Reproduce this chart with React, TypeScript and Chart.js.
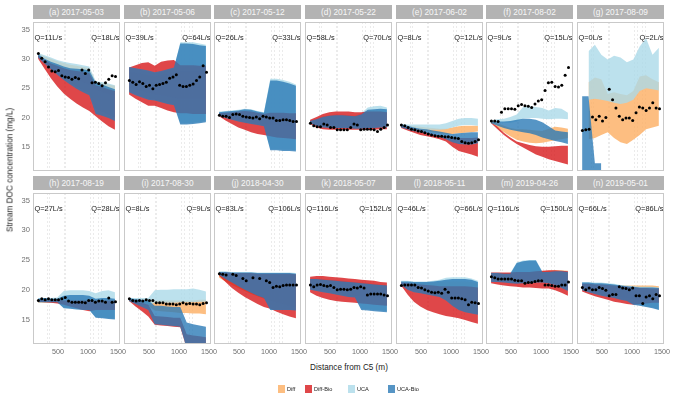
import { useEffect, useRef } from 'react';
import { Chart, registerables } from 'chart.js';

Chart.register(...registerables);
Chart.defaults.font.family = "'Liberation Sans', Arial, sans-serif";

// facet labels and discharge at the upstream / downstream end
const panelTitles = [
  '(a) 2017-05-03', '(b) 2017-05-06', '(c) 2017-05-12', '(d) 2017-05-22', '(e) 2017-06-02',
  '(f) 2017-08-02', '(g) 2017-08-09', '(h) 2017-08-19', '(i) 2017-08-30', '(j) 2018-04-30',
  '(k) 2018-05-07', '(l) 2018-05-11', '(m) 2019-04-26', '(n) 2019-05-01',
];
const qUp = [11, 39, 26, 58, 8, 9, 0, 27, 8, 83, 116, 46, 116, 66];
const qDown = [18, 64, 33, 70, 12, 15, 2, 28, 9, 106, 152, 66, 150, 86];

// distances (m)
const nodeX = [170, 277, 383, 490, 597, 703, 810, 917, 1023, 1130, 1237, 1343, 1450];
const siteX = [175, 231, 287, 343, 399, 455, 510, 566, 622, 678, 734, 790, 846, 902, 957, 1013, 1069, 1125, 1181, 1237, 1293, 1348, 1404, 1460];
const gridX = [330, 355, 605, 630, 1050, 1090, 1180, 1220];
const xTicks = [500, 1000, 1500];
const yTicks = [15, 20, 25, 30, 35];

const seriesNames = ['Diff', 'Diff-Bio', 'UCA', 'UCA-Bio'];
const seriesColors = ['rgba(253,174,97,0.8)', 'rgba(215,25,28,0.8)', 'rgba(171,217,233,0.8)', 'rgba(44,123,182,0.8)'];
// stacking: Diff at the bottom, then UCA, Diff-Bio, UCA-Bio on top
const seriesOrder = [4, 2, 3, 1];

// model ranges, one row per panel (a..n)
const diffLo = [
  [30.4, 29.6, 28.9, 28.2, 27.6, 27.0, 26.5, 26.0, 25.6, 24.8, 24.4, 24.0, 23.7],
  [25.0, 24.8, 24.5, 24.2, 24.0, 23.8, 23.6, 23.4, 23.2, 23.2, 23.2, 23.2, 23.2],
  [20.3, 20.0, 19.8, 19.6, 19.4, 19.2, 19.0, 18.9, 18.8, 18.7, 18.6, 18.5, 18.4],
  [19.0, 18.8, 18.6, 18.5, 18.5, 18.5, 18.5, 18.5, 18.5, 18.6, 18.6, 18.6, 18.6],
  [18.4, 18.2, 18.0, 17.8, 17.7, 17.5, 17.3, 17.2, 17.2, 17.3, 17.4, 17.5, 17.6],
  [19.1, 18.3, 17.5, 16.8, 16.2, 15.9, 15.7, 15.6, 15.7, 15.9, 16.1, 16.3, 16.5],
  [null, 16.3, 16.5, 17.0, 17.5, 16.5, 15.8, 15.5, 16.2, 17.0, 18.0, 18.3, 18.6],
  [17.8, 17.8, 17.8, 17.8, 17.6, 17.4, 17.2, 17.0, 16.9, 16.8, 16.8, 16.8, 16.8],
  [18.0, 17.8, 17.5, 17.3, 16.5, 16.4, 16.3, 16.2, 16.1, 16.1, 16.0, 16.0, 15.9],
  [22.0, 21.4, 20.8, 20.3, 19.8, 19.3, 18.9, 18.5, 18.2, 17.9, 17.6, 17.3, 17.0],
  [20.3, 20.1, 19.9, 19.7, 19.5, 19.3, 19.1, 19.0, 18.9, 18.8, 18.7, 18.6, 18.5],
  [20.8, 20.2, 19.8, 19.5, 19.3, 19.1, 18.9, 18.7, 18.5, 18.3, 18.1, 17.9, 17.7],
  [21.6, 21.5, 21.4, 21.3, 21.2, 21.2, 21.2, 21.3, 21.3, 21.2, 21.0, 20.7, 20.3],
  [20.0, 19.8, 19.6, 19.4, 19.2, 19.0, 18.8, 18.6, 18.4, 18.3, 18.2, 18.1, 18.0],
];
const diffHi = [
  [30.9, 30.4, 30.0, 29.6, 29.3, 29.0, 28.8, 28.6, 28.4, 26.0, 25.8, 25.6, 25.4],
  [27.8, 27.6, 27.4, 27.2, 27.0, 27.2, 27.4, 27.6, 27.8, 27.8, 27.8, 27.8, 27.8],
  [20.8, 20.8, 20.8, 20.8, 20.9, 20.8, 20.6, 20.4, 20.4, 20.4, 20.3, 20.2, 20.1],
  [19.3, 19.6, 19.9, 20.1, 20.2, 20.2, 20.2, 20.2, 20.4, 21.2, 21.2, 21.1, 21.0],
  [18.7, 18.6, 18.5, 18.4, 18.3, 18.2, 18.1, 18.1, 18.3, 18.5, 18.6, 18.6, 18.6],
  [19.3, 19.0, 18.6, 18.2, 18.0, 18.0, 17.9, 17.8, 17.7, 18.1, 18.4, 18.3, 18.1],
  [null, 26.0, 26.8, 26.5, 24.0, 24.3, 24.0, 23.8, 24.5, 27.0, 27.2, 26.5, 26.0],
  [18.3, 18.3, 18.3, 18.3, 18.3, 18.3, 18.3, 18.3, 18.3, 18.3, 18.3, 18.3, 18.3],
  [18.5, 18.4, 18.3, 18.3, 18.2, 18.2, 18.2, 18.2, 18.2, 18.2, 18.2, 18.3, 18.3],
  [22.8, 22.8, 22.7, 22.7, 22.7, 22.7, 22.6, 22.6, 22.6, 22.6, 22.6, 22.6, 22.5],
  [21.6, 21.6, 21.5, 21.4, 21.3, 21.2, 21.1, 21.0, 20.9, 20.8, 20.7, 20.6, 20.5],
  [21.2, 21.2, 21.1, 21.1, 21.1, 21.2, 21.3, 21.4, 21.4, 21.4, 21.4, 21.3, 21.0],
  [22.8, 22.8, 22.8, 22.8, 22.9, 22.9, 23.0, 23.0, 23.1, 23.2, 23.3, 23.3, 23.2],
  [21.0, 21.0, 21.0, 20.9, 20.9, 20.8, 20.8, 20.7, 20.7, 20.7, 20.7, 20.7, 20.6],
];
const diffBioLo = [
  [30.0, 28.3, 26.7, 25.3, 24.1, 23.2, 22.4, 21.7, 21.1, 20.2, 19.3, 18.5, 17.9],
  [23.9, 23.2, 22.6, 22.0, 22.0, 21.6, 21.2, 20.9, 20.7, 20.7, 20.6, 20.6, 20.6],
  [20.2, 19.5, 18.9, 18.3, 17.9, 17.5, 17.2, 17.0, 16.8, 16.6, 16.5, 16.4, 16.3],
  [18.9, 18.3, 18.0, 17.9, 17.9, 17.9, 17.9, 17.9, 17.9, 17.9, 17.9, 18.0, 18.0],
  [18.2, 17.8, 17.4, 17.0, 16.8, 16.6, 16.3, 15.9, 15.0, 14.3, 14.0, 13.7, 13.3],
  [19.0, 18.0, 17.0, 16.2, 15.5, 14.9, 14.3, 13.7, 13.3, 12.9, 12.6, 12.3, 12.0],
  [null, null, null, null, null, null, null, null, null, null, null, null, null],
  [18.0, 17.9, 17.8, 17.7, 17.5, 17.2, 16.9, 16.6, 16.4, 16.6, 16.6, 16.6, 16.6],
  [18.1, 17.2, 16.4, 15.5, 14.1, 14.0, 13.9, 13.8, 13.7, 10.2, 10.2, 10.2, 10.2],
  [22.3, 21.3, 20.3, 19.5, 18.8, 18.2, 17.6, 17.1, 16.8, 16.3, 15.9, 15.5, 15.2],
  [19.6, 19.0, 18.6, 18.3, 18.1, 18.0, 17.9, 17.8, 17.7, 17.6, 17.5, 17.4, 17.3],
  [20.7, 19.2, 18.0, 17.2, 16.6, 16.2, 15.9, 15.6, 15.4, 15.2, 14.9, 14.6, 14.3],
  [21.1, 20.9, 20.7, 20.6, 20.5, 20.4, 20.4, 20.3, 20.2, 20.2, 19.9, 19.5, 19.0],
  [19.7, 19.3, 18.9, 18.6, 18.3, 18.0, 17.8, 17.6, 17.5, 17.6, 17.7, 17.8, 17.8],
];
const diffBioHi = [
  [30.6, 29.8, 29.2, 28.8, 28.4, 28.1, 27.9, 27.8, 27.6, 25.5, 25.2, 24.8, 24.5],
  [28.5, 28.9, 29.3, 29.4, 28.8, 29.5, 29.7, 29.8, 28.9, 28.9, 28.9, 28.8, 28.8],
  [20.7, 20.8, 20.9, 21.0, 21.1, 21.0, 20.8, 20.6, 20.8, 20.8, 20.8, 20.7, 20.7],
  [19.6, 20.1, 20.6, 20.9, 21.0, 21.0, 21.0, 20.9, 20.9, 21.0, 21.0, 21.0, 20.9],
  [18.6, 18.4, 18.1, 17.8, 17.5, 17.2, 16.9, 16.7, 16.5, 16.5, 16.5, 16.5, 16.6],
  [19.2, 18.4, 17.4, 16.6, 15.9, 15.6, 15.3, 15.1, 15.0, 15.0, 15.1, 15.2, 15.2],
  [null, null, null, null, null, null, null, null, null, null, null, null, null],
  [18.3, 18.3, 18.3, 18.3, 18.2, 18.2, 18.2, 18.2, 18.2, 18.2, 18.2, 18.2, 18.2],
  [18.4, 18.1, 17.8, 17.5, 15.6, 15.5, 15.4, 15.3, 15.3, 12.5, 12.3, 12.2, 12.0],
  [22.9, 22.9, 22.8, 22.8, 22.8, 22.8, 22.7, 22.7, 22.7, 22.7, 22.7, 22.7, 22.6],
  [22.2, 22.3, 22.3, 22.2, 22.1, 22.0, 21.9, 21.8, 21.7, 21.6, 21.5, 21.3, 21.2],
  [21.2, 21.1, 21.0, 20.9, 20.8, 20.7, 20.6, 20.6, 20.6, 20.6, 20.6, 20.5, 20.4],
  [22.9, 22.9, 22.9, 22.9, 23.0, 23.0, 23.0, 23.1, 23.2, 23.3, 23.3, 23.2, 23.1],
  [21.0, 21.0, 20.9, 20.9, 20.8, 20.7, 20.6, 20.5, 20.4, 20.3, 20.3, 20.2, 20.2],
];
const ucaLo = [
  [30.3, 29.3, 28.4, 27.6, 26.8, 26.0, 25.3, 24.7, 24.2, 21.5, 21.0, 20.5, 20.0],
  [24.5, 24.0, 23.6, 23.2, 23.1, 22.8, 22.5, 22.3, 19.0, 19.0, 19.1, 19.2, 19.4],
  [20.4, 20.0, 19.7, 19.4, 19.2, 19.0, 18.8, 18.6, 14.6, 14.6, 14.5, 14.5, 14.4],
  [19.1, 18.7, 18.4, 18.3, 18.3, 18.3, 18.3, 18.2, 18.2, 18.3, 18.3, 18.4, 18.4],
  [18.4, 18.2, 18.1, 18.0, 17.9, 17.9, 17.9, 18.0, 18.3, 18.6, 18.7, 18.7, 18.6],
  [19.3, 19.2, 19.1, 19.1, 19.3, 19.8, 19.9, 19.9, 19.8, 19.7, 19.8, 19.8, 19.7],
  [null, 23.0, 23.2, 23.0, 22.8, 22.5, 22.3, 22.5, 23.0, 24.5, 25.0, 24.8, 24.6],
  [17.9, 17.9, 17.9, 17.9, 17.0, 16.9, 16.8, 16.7, 16.6, 15.4, 15.3, 15.2, 15.1],
  [18.0, 17.7, 17.5, 17.4, 17.8, 17.8, 17.8, 17.8, 17.9, 17.9, 17.9, 18.0, 18.0],
  [22.6, 21.9, 21.3, 20.7, 20.1, 19.6, 19.1, 18.7, 16.7, 16.7, 16.7, 16.7, 16.6],
  [20.1, 19.9, 19.7, 19.5, 19.3, 19.1, 18.9, 18.8, 16.8, 16.7, 16.6, 16.5, 16.4],
  [20.9, 20.1, 19.7, 19.5, 19.3, 19.1, 18.9, 18.3, 17.4, 16.7, 16.3, 16.1, 15.9],
  [21.4, 21.4, 21.3, 21.2, 21.1, 21.2, 21.2, 21.3, 21.3, 21.2, 20.9, 20.4, 19.9],
  [20.0, 19.7, 19.4, 19.1, 18.9, 18.7, 18.4, 18.2, 17.6, 17.4, 17.2, 17.0, 16.7],
];
const ucaHi = [
  [31.0, 30.6, 30.2, 29.8, 29.5, 29.3, 29.1, 28.9, 28.7, 26.2, 26.0, 25.8, 25.5],
  [28.4, 28.2, 28.0, 27.8, 27.5, 27.7, 28.0, 28.3, 32.8, 32.8, 32.8, 32.6, 32.4],
  [21.0, 21.1, 21.2, 21.3, 21.5, 21.4, 21.1, 20.9, 26.6, 26.6, 26.4, 26.1, 25.6],
  [19.5, 19.8, 20.2, 20.4, 20.5, 20.5, 20.4, 20.3, 20.7, 21.7, 21.9, 22.0, 21.7],
  [18.9, 18.8, 18.8, 18.8, 18.8, 18.8, 18.8, 19.0, 19.4, 19.8, 19.9, 19.9, 19.8],
  [19.5, 19.7, 19.8, 20.1, 20.5, 21.8, 21.9, 21.8, 21.6, 21.2, 21.6, 21.5, 20.8],
  [null, 31.3, 32.4, 30.7, 29.9, 30.5, 30.2, 29.4, 29.9, 32.1, 33.5, 30.7, 31.9],
  [18.6, 18.6, 18.6, 18.7, 19.8, 19.9, 19.9, 19.9, 19.8, 19.4, 19.8, 19.9, 19.6],
  [18.6, 18.6, 18.6, 18.6, 19.9, 20.0, 20.0, 20.1, 20.1, 20.1, 20.2, 20.0, 19.7],
  [23.1, 23.1, 23.0, 23.0, 23.0, 23.0, 22.9, 22.9, 22.9, 22.9, 22.9, 22.9, 22.8],
  [21.9, 21.9, 21.8, 21.7, 21.6, 21.5, 21.4, 21.3, 21.2, 21.1, 21.0, 20.9, 20.8],
  [21.5, 21.5, 21.4, 21.4, 21.4, 21.5, 21.7, 22.0, 22.1, 22.1, 22.1, 21.9, 21.5],
  [22.9, 22.9, 22.8, 22.8, 24.6, 24.9, 25.0, 25.0, 23.1, 23.1, 23.2, 23.2, 23.1],
  [21.3, 21.3, 21.2, 21.2, 21.1, 21.0, 20.8, 20.7, 20.6, 20.5, 20.5, 20.5, 20.4],
];
const ucaBioLo = [
  [30.2, 29.2, 28.2, 27.3, 26.4, 25.6, 24.9, 24.3, 23.8, 20.6, 20.3, 19.9, 19.4],
  [24.3, 23.8, 23.4, 23.0, 22.9, 22.6, 22.3, 22.1, 18.8, 18.8, 18.9, 19.0, 19.2],
  [20.3, 19.9, 19.6, 19.3, 19.1, 18.9, 18.7, 18.5, 14.4, 14.4, 14.3, 14.3, 14.2],
  [19.0, 18.6, 18.3, 18.2, 18.2, 18.2, 18.2, 18.1, 18.1, 18.2, 18.2, 18.3, 18.3],
  [18.3, 18.0, 17.7, 17.5, 17.3, 17.0, 16.7, 16.3, 15.8, 15.5, 15.4, 15.4, 15.6],
  [19.0, 18.6, 18.2, 17.9, 17.7, 17.5, 17.3, 17.0, 16.6, 16.3, 16.0, 15.8, 15.5],
  [10.0, 10.0, 10.0, 10.0, null, null, null, null, null, null, null, null, null],
  [17.9, 17.9, 17.9, 17.9, 16.9, 16.8, 16.7, 16.6, 16.6, 15.3, 15.2, 15.1, 15.0],
  [18.1, 17.6, 17.1, 16.6, 14.2, 14.1, 14.0, 13.9, 13.8, 10.2, 10.2, 10.2, 10.2],
  [22.5, 21.8, 21.2, 20.6, 20.0, 19.5, 19.0, 18.6, 16.6, 16.6, 16.6, 16.6, 16.5],
  [20.0, 19.8, 19.6, 19.4, 19.2, 19.0, 18.8, 18.7, 16.6, 16.5, 16.4, 16.3, 16.2],
  [20.8, 20.0, 19.6, 19.4, 19.2, 19.0, 18.8, 18.2, 17.3, 16.6, 16.2, 16.0, 15.8],
  [21.3, 21.3, 21.2, 21.1, 21.0, 21.1, 21.1, 21.2, 21.2, 21.1, 20.8, 20.3, 19.8],
  [19.9, 19.6, 19.3, 19.0, 18.8, 18.6, 18.3, 18.1, 17.5, 17.3, 17.1, 16.9, 16.6],
];
const ucaBioHi = [
  [30.8, 30.0, 29.5, 29.1, 28.7, 28.4, 28.3, 28.2, 28.0, 25.9, 25.6, 25.2, 24.8],
  [28.6, 28.4, 28.2, 28.0, 27.7, 27.9, 28.2, 28.5, 32.6, 32.6, 32.5, 32.3, 32.2],
  [20.9, 21.0, 21.1, 21.2, 21.4, 21.3, 21.0, 20.8, 26.3, 26.3, 26.1, 25.8, 25.4],
  [19.4, 19.7, 20.1, 20.3, 20.4, 20.4, 20.3, 20.2, 20.5, 21.3, 21.4, 21.5, 21.4],
  [18.8, 18.6, 18.3, 18.1, 18.0, 17.8, 17.6, 17.4, 17.2, 17.3, 17.4, 17.5, 17.5],
  [19.3, 19.3, 19.3, 19.4, 19.6, 19.8, 19.8, 19.6, 19.2, 18.5, 17.8, 17.6, 17.5],
  [23.6, 23.6, 12.2, 12.2, null, null, null, null, null, null, null, null, null],
  [18.5, 18.6, 18.5, 18.5, 19.0, 19.1, 19.1, 19.1, 19.0, 18.5, 18.6, 18.6, 18.5],
  [18.6, 18.4, 18.3, 18.2, 17.3, 17.3, 17.2, 17.1, 17.1, 14.5, 14.2, 14.0, 13.8],
  [23.0, 23.0, 22.9, 22.9, 22.9, 22.9, 22.8, 22.8, 22.8, 22.8, 22.8, 22.8, 22.7],
  [21.8, 21.8, 21.7, 21.6, 21.5, 21.4, 21.3, 21.2, 21.1, 21.0, 20.9, 20.8, 20.7],
  [21.4, 21.4, 21.3, 21.3, 21.3, 21.4, 21.5, 21.7, 21.8, 21.8, 21.8, 21.7, 21.3],
  [22.8, 22.8, 22.7, 22.7, 24.5, 24.8, 24.9, 24.9, 23.0, 23.0, 23.1, 23.1, 23.0],
  [21.2, 21.2, 21.1, 21.1, 21.0, 20.9, 20.7, 20.6, 20.5, 20.4, 20.4, 20.4, 20.3],
];

// observed stream DOC (mg/L) at siteX
const docObs = [
  [30.9, 30.1, 29.5, 28.6, 27.9, 27.8, 28.0, 27.1, 26.9, 26.8, 26.5, 26.8, 26.6, 28.1, 27.5, 28.1, 25.9, 26.0, 25.8, 25.4, 25.9, 26.5, 27.1, 27.0],
  [26.3, 26.0, 25.6, 26.1, 25.8, 25.3, 25.5, 24.9, 25.5, 25.6, 25.8, 26.0, 26.7, 26.9, 27.3, 25.5, 25.3, 25.3, 25.5, 25.7, 26.3, 26.9, 28.8, 27.7],
  [20.4, 20.2, 20.2, 20.0, 20.5, 20.6, 20.5, 20.2, 20.1, 20.0, 19.9, 20.1, 19.8, 20.2, 20.1, 19.9, 19.9, 19.5, 19.5, 19.6, 19.6, 19.5, 19.3, 19.3],
  [19.0, 18.6, 18.4, 18.4, 18.9, 18.7, 18.3, 18.3, 17.9, 17.9, 17.9, 17.9, 18.3, 18.9, 18.7, 17.9, 18.0, 18.0, 18.0, 17.9, 17.6, 18.0, 18.3, 18.7],
  [18.7, 18.6, 18.3, 18.0, 17.9, 17.7, 17.6, 17.4, 17.2, 17.0, 16.9, 16.8, 16.8, 16.7, 16.7, 16.6, 16.5, 16.4, 15.9, 15.7, 15.6, 15.7, 15.9, 16.2],
  [19.4, 19.4, 19.3, 20.9, 21.5, 21.5, 21.5, 21.4, 22.0, 22.2, 22.0, 21.9, 21.7, 22.3, 22.8, 23.0, 24.6, 25.9, 26.0, 25.3, 25.2, 25.5, 27.2, 28.5],
  [17.8, 17.9, 18.0, 20.1, 19.6, 20.2, 19.4, 20.0, 24.8, 23.0, 21.6, 20.2, 19.6, 19.9, 19.9, 19.5, 20.8, 21.8, 21.6, 21.2, 21.6, 22.5, 21.6, 21.5],
  [18.2, 18.5, 18.3, 18.5, 18.3, 18.3, 18.3, 18.5, 18.7, 18.1, 17.9, 17.9, 17.9, 17.9, 17.8, 18.2, 18.2, 17.9, 18.1, 18.1, 17.9, 18.6, 17.9, 18.0],
  [18.5, 18.2, 18.1, 18.2, 18.1, 18.3, 18.2, 18.2, 17.8, 17.8, 17.8, 17.6, 17.6, 17.6, 17.5, 17.6, 17.8, 17.6, 17.7, 17.6, 17.6, 17.5, 17.7, 17.8],
  [22.7, 22.6, 22.5, null, 22.6, 22.4, null, 21.9, 21.5, null, 22.0, null, 21.9, null, 21.5, 21.2, 20.4, 20.6, 20.5, 20.7, 20.8, 20.8, 20.8, 20.8],
  [20.8, 20.5, 20.8, 20.9, 20.7, 20.6, 20.7, 20.4, 20.0, 20.1, 20.1, 20.0, 20.1, 20.4, 20.3, 20.5, 20.3, 19.1, 19.3, 19.3, 19.3, 19.3, 19.1, 19.0],
  [20.7, 20.8, 20.8, 20.8, 20.8, 20.4, 20.3, 20.0, 19.8, 19.6, 19.5, 19.6, 19.4, 20.1, 19.6, 18.6, 18.6, 18.6, 18.5, 18.3, 17.5, 17.9, 17.8, 17.7],
  [22.2, 22.0, 21.8, 21.8, 21.8, 21.8, 21.8, 21.6, 21.5, 21.5, 21.1, 21.2, 21.2, 21.4, 21.5, 21.5, 20.8, 20.8, 20.7, 20.6, 20.6, 20.8, 20.8, 21.3],
  [20.4, 20.0, 20.3, 20.0, 20.0, 20.4, 20.2, 19.9, 19.0, 19.2, 19.2, 20.5, 20.3, 20.2, 20.0, 20.3, 19.0, 19.0, 17.7, 18.8, 19.0, 18.5, 19.2, 19.0],
];

const X_MIN = 85;
const X_MAX = 1535;
const Y_MIN = 10.88;
const Y_MAX = 36.27;
const Q_LEVEL = 33.6;

// layout in page pixels
const PLOT_X0 = 33;
const COL_STEP = 90.67;
const ROW_TOP = [20, 191];
const PLOT_W = 87;
const PLOT_H = 153;
const STRIP_H = 14;
const Y_AXIS_W = 24;
const X_AXIS_H = 14;

const FONT = "'Liberation Sans', Arial, sans-serif";

function Panel({ idx }: { idx: number }) {
  const chartRef = useRef<HTMLCanvasElement>(null);
  const chartInstance = useRef<Chart | null>(null);

  const col = idx % 7;
  const row = Math.floor(idx / 7);
  const plotLeft = PLOT_X0 + Math.round(col * COL_STEP);
  const plotTop = ROW_TOP[row];
  const showY = col === 0;
  const showX = row === 1;
  const padL = showY ? 28 : 8;
  const padR = 8;
  const padT = 2;
  const padB = showX ? 18 : 2;

  useEffect(() => {
    if (!chartRef.current) return;
    if (chartInstance.current) chartInstance.current.destroy();

    const lowers = [diffLo, diffBioLo, ucaLo, ucaBioLo];
    const uppers = [diffHi, diffBioHi, ucaHi, ucaBioHi];
    const toPts = (arr: (number | null)[][]) => nodeX.map((x, k) => ({ x, y: arr[idx][k] }));

    const datasets: any[] = [];
    seriesNames.forEach((name, s) => {
      datasets.push({
        label: name + ' low',
        data: toPts(lowers[s]),
        order: seriesOrder[s],
        borderColor: 'transparent',
        borderWidth: 0,
        pointRadius: 0,
        fill: false,
      });
      datasets.push({
        label: name,
        data: toPts(uppers[s]),
        order: seriesOrder[s],
        borderColor: 'transparent',
        borderWidth: 0,
        pointRadius: 0,
        fill: '-1',
        backgroundColor: seriesColors[s],
      });
    });
    datasets.push({
      label: 'Observed',
      data: siteX.map((x, k) => ({ x, y: docObs[idx][k] })),
      order: 0,
      showLine: false,
      pointRadius: 1.5,
      pointBackgroundColor: '#000000',
      pointBorderWidth: 0,
      borderColor: '#000000',
    });

    const decor = {
      id: 'decor',
      afterDatasetsDraw(chart: any) {
        const { ctx, chartArea, scales } = chart;
        const y = scales.y.getPixelForValue(Q_LEVEL);
        ctx.save();
        ctx.fillStyle = '#1a1a1a';
        ctx.font = `7.4px ${FONT}`;
        ctx.textBaseline = 'middle';
        ctx.textAlign = 'left';
        ctx.fillText(`Q=${qUp[idx]}L/s`, chartArea.left + 1.5, y);
        ctx.textAlign = 'right';
        ctx.fillText(`Q=${qDown[idx]}L/s`, chartArea.right - 0.5, y);
        ctx.strokeStyle = '#c9c9c9';
        ctx.lineWidth = 1;
        ctx.strokeRect(chartArea.left + 0.5, chartArea.top + 0.5, chartArea.width - 1, chartArea.height - 1);
        ctx.restore();
      },
    };

    chartInstance.current = new Chart(chartRef.current, {
      type: 'line',
      data: { datasets },
      options: {
        animation: false,
        responsive: true,
        maintainAspectRatio: false,
        layout: {
          padding: {
            left: showY ? padL - Y_AXIS_W : padL,
            right: padR,
            top: padT,
            bottom: showX ? padB - X_AXIS_H : padB,
          },
        },
        plugins: {
          legend: { display: false },
          tooltip: { enabled: false },
        },
        scales: {
          x: {
            type: 'linear',
            min: X_MIN,
            max: X_MAX,
            position: 'bottom',
            grid: { color: '#dedede', lineWidth: 0.6, drawTicks: false },
            border: { display: false, dash: [2, 2] },
            ticks: { display: false },
            afterBuildTicks: (s: any) => {
              s.ticks = gridX.map((v) => ({ value: v }));
            },
            afterFit: (s: any) => {
              s.height = 0;
              s.paddingLeft = 0;
              s.paddingRight = 0;
            },
          },
          xl: {
            type: 'linear',
            min: X_MIN,
            max: X_MAX,
            position: 'bottom',
            display: showX,
            grid: { display: false, drawTicks: false },
            border: { display: false },
            ticks: {
              color: '#6e6e6e',
              font: { size: 7.2 },
              padding: 4,
              autoSkip: false,
              maxRotation: 0,
              callback: (v: any) => String(v),
            },
            afterBuildTicks: (s: any) => {
              s.ticks = xTicks.map((v) => ({ value: v }));
            },
            afterFit: (s: any) => {
              s.height = showX ? X_AXIS_H : 0;
              s.paddingLeft = 0;
              s.paddingRight = 0;
            },
          },
          y: {
            type: 'linear',
            min: Y_MIN,
            max: Y_MAX,
            display: showY,
            grid: { display: false, drawTicks: false },
            border: { display: false },
            ticks: { color: '#6e6e6e', font: { size: 7.6 }, padding: 3 },
            afterBuildTicks: (s: any) => {
              s.ticks = yTicks.map((v) => ({ value: v }));
            },
            afterFit: (s: any) => {
              s.width = showY ? Y_AXIS_W : 0;
              s.paddingTop = 0;
              s.paddingBottom = 0;
            },
          },
        },
      },
      plugins: [decor],
    } as any);

    return () => {
      if (chartInstance.current) {
        chartInstance.current.destroy();
        chartInstance.current = null;
      }
    };
  }, [idx]);

  return (
    <>
      <div
        style={{
          position: 'absolute',
          left: plotLeft,
          top: plotTop - STRIP_H - 1,
          width: PLOT_W,
          height: STRIP_H,
          background: '#b3b3b3',
          color: '#f7f7f7',
          fontSize: 8.3,
          lineHeight: `${STRIP_H}px`,
          textAlign: 'center',
          whiteSpace: 'nowrap',
        }}
      >
        {panelTitles[idx]}
      </div>
      <div
        style={{
          position: 'absolute',
          left: plotLeft - padL,
          top: plotTop - padT,
          width: PLOT_W + padL + padR,
          height: PLOT_H + padT + padB,
        }}
      >
        <canvas ref={chartRef} />
      </div>
    </>
  );
}

export default function App() {
  const legendBoxX = [278, 305, 348, 388];
  return (
    <div
      style={{
        position: 'absolute',
        left: 0,
        top: 0,
        width: 677,
        height: 400,
        background: '#ffffff',
        fontFamily: FONT,
        overflow: 'hidden',
      }}
    >
      {panelTitles.map((_, i) => (
        <Panel key={i} idx={i} />
      ))}
      <div
        style={{
          position: 'absolute',
          left: 10,
          top: 170,
          transform: 'translate(-50%, -50%) rotate(-90deg)',
          whiteSpace: 'nowrap',
          fontSize: 8.2,
          color: '#222',
        }}
      >
        Stream DOC concentration (mg/L)
      </div>
      <div
        style={{
          position: 'absolute',
          left: 349,
          top: 367,
          transform: 'translate(-50%, -50%)',
          whiteSpace: 'nowrap',
          fontSize: 8.2,
          color: '#222',
        }}
      >
        Distance from C5 (m)
      </div>
      {seriesNames.map((name, s) => (
        <div key={name}>
          <div
            style={{
              position: 'absolute',
              left: legendBoxX[s],
              top: 385,
              width: 7,
              height: 8,
              background: seriesColors[s],
            }}
          />
          <div
            style={{
              position: 'absolute',
              left: legendBoxX[s] + 9,
              top: 389,
              transform: 'translateY(-50%)',
              fontSize: 5.6,
              color: '#222',
              whiteSpace: 'nowrap',
            }}
          >
            {name}
          </div>
        </div>
      ))}
    </div>
  );
}
